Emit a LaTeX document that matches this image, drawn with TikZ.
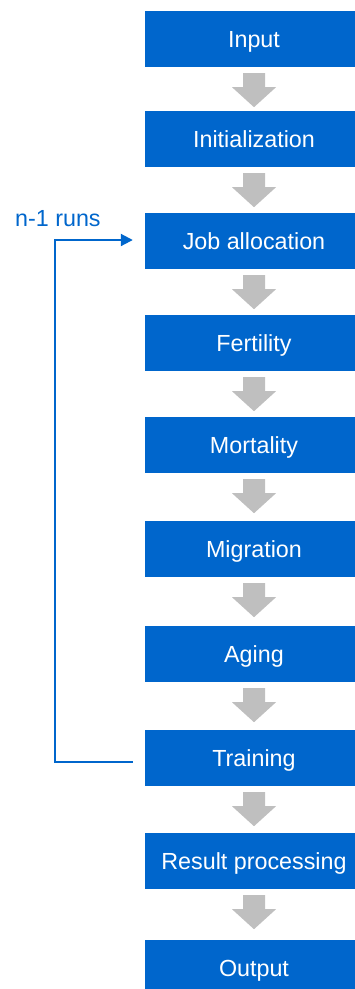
\documentclass[tikz,border=0pt]{standalone}
\usepackage{fontspec}
\setmainfont{Liberation Sans}
\usetikzlibrary{calc,arrows.meta}
\definecolor{boxblue}{HTML}{0066CC}
\definecolor{arrowgray}{HTML}{BFBFBF}

% grey block arrow hanging below a stage box
\newcommand\stagearrow[1]{%
  \fill[arrowgray] ($(#1.south)+(-11,6)$) -- ($(#1.south)+(11,6)$)
    -- ($(#1.south)+(11,20)$) -- ($(#1.south)+(22,20)$)
    -- ($(#1.south)+(0,40)$) -- ($(#1.south)+(-22,20)$)
    -- ($(#1.south)+(-11,20)$) -- cycle;}

\begin{document}
\begin{tikzpicture}[x=1pt,y=-1pt,
  stage/.style={fill=boxblue, minimum width=218pt, minimum height=56pt,
    inner sep=0pt, text height=16.5pt, text depth=0pt, text=white,
    font=\fontsize{23.3}{27}\selectfont},
  loopline/.style={draw=boxblue, line width=2pt, line join=miter,
    -{Triangle[length=12pt,width=12pt]}},
  looplabel/.style={text=boxblue, font=\fontsize{23.3}{27}\selectfont,
    inner sep=0pt, anchor=west}]

\useasboundingbox (0,0) rectangle (355,989);
\clip (0,0) rectangle (355,989);

% stages
\node[stage] (input)   at (254,39)  {Input};
\node[stage] (init)    at (254,139) {Initialization};
\node[stage] (job)     at (254,241) {Job allocation};
\node[stage] (fert)    at (254,343) {Fertility};
\node[stage] (mort)    at (254,445) {Mortality};
\node[stage] (migr)    at (254,549) {Migration};
\node[stage] (aging)   at (254,654) {Aging};
\node[stage] (train)   at (254,758) {Training};
\node[stage] (result)  at (254,861) {Result processing};
\node[stage] (output)  at (254,968) {Output};

% flow arrows
\foreach \s in {input,init,job,fert,mort,migr,aging,train,result}
  {\stagearrow{\s}}

% repetition loop
\draw[loopline] ($(train.west)+(-12,4)$) -| ($(job.west)+(-90,-1)$)
  -- ($(job.west)+(-12,-1)$);
\node[looplabel] (runs) at (15,219) {n-1 runs};
\end{tikzpicture}
\end{document}
